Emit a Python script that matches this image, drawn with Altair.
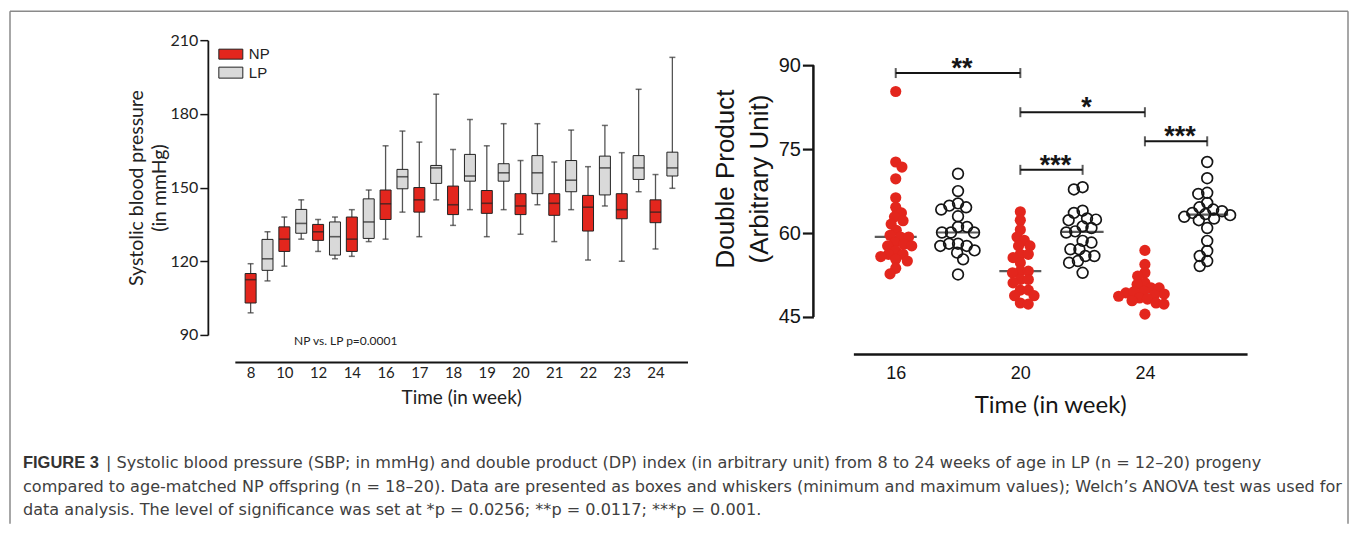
import math
import altair as alt
import pandas as pd

# ---------------- Left panel: systolic blood pressure (box & whiskers) ----------------
weeks = [8, 10, 12, 14, 16, 17, 18, 19, 20, 21, 22, 23, 24]
np_min = [99, 118, 124, 122, 129, 130, 134.6, 130, 131, 128, 120.5, 120, 125]
np_q1 = [103, 124, 128.5, 124, 137, 140, 139, 139.5, 139, 138.7, 132.3, 137.3, 135.7]
np_med = [112.5, 129, 132, 129, 143.4, 145, 143, 143.6, 142.5, 143.6, 142, 141, 140]
np_q3 = [115, 134, 135, 138, 149, 150, 150.6, 148.8, 147.5, 147.5, 146.8, 147.5, 145]
np_max = [119, 138, 137, 141, 167, 168.5, 165.5, 167, 161, 160.4, 158.5, 164.2, 155.3]
lp_min = [112, 129, 121, 128, 140, 145, 141, 141, 143, 141, 142.5, 148.3, 149.7]
lp_q1 = [116.3, 131.4, 122.5, 129.3, 149.5, 151.7, 152.6, 152.6, 147.5, 148.3, 147, 153.3, 154.7]
lp_med = [121, 135.4, 130, 136, 154.4, 158, 154.7, 156, 156, 153, 158, 158, 158]
lp_q3 = [128.9, 141.1, 136, 145.4, 157.4, 159, 163.5, 159.7, 163, 161, 162.8, 163, 164.4]
lp_max = [132, 145, 138, 149, 173, 188, 177.7, 176, 176, 173.4, 175.3, 190, 203]
sbp_ticks = [90, 120, 150, 180, 210]
groups = ["NP", "LP"]

# ---------------- Right panel: double product (scatter) ----------------
dp_weeks = [16, 20, 24]
dp_np16 = [85.3, 72.7, 71.8, 69.7, 66.3, 64.6, 63.6, 62.9, 62.2, 61.6, 60.5, 59.6, 59.3,
           59.3, 58.3, 58.0, 57.7, 57.7, 56.8, 56.2, 56.2, 55.8, 55.3, 55.0, 53.7, 52.7]
dp_lp16 = [70.6, 67.5, 65.3, 64.9, 64.6, 64.2, 63.0, 61.1, 61.1, 60.1, 60.1, 60.1, 58.1,
           58.1, 57.7, 57.7, 56.9, 56.5, 55.3, 52.6]
dp_np20 = [63.8, 62.3, 60.6, 59.3, 58.7, 57.7, 57.7, 56.2, 56.2, 55.6, 54.7, 53.2, 53.2,
           52.9, 51.7, 51.7, 51.1, 49.8, 49.8, 48.8, 48.8, 47.5, 47.3]
dp_lp20 = [68.2, 67.8, 64.0, 63.6, 62.6, 62.4, 62.3, 61.2, 60.9, 60.3, 60.1, 58.6, 58.3,
           57.1, 57.1, 55.9, 55.9, 55.0, 54.7, 52.9]
dp_np24 = [56.9, 54.4, 52.9, 52.3, 51.1, 50.8, 50.2, 50.2, 49.6, 49.3, 49.1, 48.9, 49.5,
           48.7, 48.4, 48.2, 47.9, 47.5, 47.3, 45.5]
dp_lp24 = [72.7, 69.8, 67.2, 67.0, 65.4, 64.6, 64.2, 63.9, 63.6, 63.4, 63.2, 62.9, 62.6,
           62.3, 60.9, 58.6, 56.8, 55.9, 55.0, 54.1]
dp_ticks = [45, 60, 75, 90]
br_from = [0, 2, 2, 4]
br_to = [2, 4, 3, 5]
br_y = [88.6, 81.6, 71.3, 76.4]
br_label = ["**", "*", "***", "***"]

caption_bold = "FIGURE 3"
caption_l1 = ("| Systolic blood pressure (SBP; in mmHg) and double product (DP) index (in arbitrary unit) "
              "from 8 to 24 weeks of age in LP (n = 12–20) progeny")
caption_l2 = ("compared to age-matched NP offspring (n = 18–20). Data are presented as boxes and whiskers "
              "(minimum and maximum values); Welch’s ANOVA test was used for")
caption_l3 = ("data analysis. The level of significance was set at *p = 0.0256; **p = 0.0117; "
              "***p = 0.001.")

RED = "#e3261d"
LGRAY = "#d9d9d9"
INK = "#151515"
LFONT = "Lato"
SFONT = "Liberation Sans"

one = pd.DataFrame({"k": [0]})

# ---------- left panel ----------
rows = []
for i, w in enumerate(weeks):
    rows.append(dict(week=w, group="NP", slot=2 * i, lo=np_min[i], q1=np_q1[i],
                     med=np_med[i], q3=np_q3[i], hi=np_max[i]))
    rows.append(dict(week=w, group="LP", slot=2 * i + 1, lo=lp_min[i], q1=lp_q1[i],
                     med=lp_med[i], q3=lp_q3[i], hi=lp_max[i]))
box_df = pd.DataFrame(rows)

week_expr = "[" + ",".join(f"'{w}'" for w in weeks) + "][datum.value / 2]"
xs = alt.Scale(domain=[-0.64, 25.6], nice=False, zero=False)
ys = alt.Scale(domain=[min(sbp_ticks), max(sbp_ticks)], nice=False, zero=False)

x_axis = alt.Axis(values=[2 * i for i in range(len(weeks))], labelExpr=week_expr,
                  labelOverlap=False, labelSeparation=0, ticks=False, tickSize=0,
                  domainColor=INK, domainWidth=2, offset=27, labelFont=LFONT,
                  labelFontSize=15, labelColor="#222", labelPadding=4,
                  title="Time (in week)", titleFont=LFONT, titleFontSize=19,
                  titleFontWeight="normal", titleColor="#222", titlePadding=8, grid=False)
y_axis = alt.Axis(values=sbp_ticks, offset=27, tickSize=8, tickColor=INK, tickWidth=1.5,
                  domainColor=INK, domainWidth=1.8, labelFont=LFONT, labelFontSize=16,
                  labelColor="#222", labelPadding=2,
                  title=["Systolic blood pressure", "(in mmHg)"], titleFont=LFONT,
                  titleFontSize=19.5, titleFontWeight="normal", titleColor="#222",
                  titlePadding=1, titleLineHeight=23, grid=False)

base = alt.Chart(box_df)
whisk = base.mark_rule(color="#555", strokeWidth=1.3).encode(
    x=alt.X("slot:Q", scale=xs, axis=x_axis),
    y=alt.Y("lo:Q", scale=ys, axis=y_axis), y2="hi:Q")
cap_lo = base.mark_tick(orient="horizontal", size=6, thickness=1.5, color="#333").encode(
    x=alt.X("slot:Q", axis=x_axis), y="lo:Q")
cap_hi = base.mark_tick(orient="horizontal", size=6, thickness=1.5, color="#333").encode(
    x=alt.X("slot:Q", axis=x_axis), y="hi:Q")
boxes = base.mark_bar(size=11, stroke="#222", strokeWidth=1).encode(
    x=alt.X("slot:Q", axis=x_axis), y="q1:Q", y2="q3:Q",
    color=alt.Color("group:N", scale=alt.Scale(domain=groups, range=[RED, LGRAY]), legend=None))
meds = base.mark_tick(orient="horizontal", size=11, thickness=1.6, color="#222").encode(
    x=alt.X("slot:Q", axis=x_axis), y="med:Q")

FRAME = "#8a8a8a"
fr_top = alt.Chart(one).mark_rule(color=FRAME, strokeWidth=1.5).encode(
    x=alt.value(-225), x2=alt.value(1114), y=alt.value(-29))
fr_left = alt.Chart(one).mark_rule(color=FRAME, strokeWidth=1.5).encode(
    x=alt.value(-225), y=alt.value(-29), y2=alt.value(484))
fr_right = alt.Chart(one).mark_rule(color=FRAME, strokeWidth=1.5).encode(
    x=alt.value(1114), y=alt.value(-29), y2=alt.value(484))

leg_np = alt.Chart(one).mark_rect(fill=RED, stroke="#222", strokeWidth=1).encode(
    x=alt.value(-16), x2=alt.value(8), y=alt.value(9), y2=alt.value(19))
leg_lp = alt.Chart(one).mark_rect(fill=LGRAY, stroke="#222", strokeWidth=1).encode(
    x=alt.value(-16), x2=alt.value(8), y=alt.value(27), y2=alt.value(38))
leg_np_t = alt.Chart(one).mark_text(align="left", baseline="middle", font=SFONT,
                                    fontSize=15, color="#222").encode(
    x=alt.value(14), y=alt.value(14), text=alt.value(groups[0]))
leg_lp_t = alt.Chart(one).mark_text(align="left", baseline="middle", font=SFONT,
                                    fontSize=15, color="#222").encode(
    x=alt.value(14), y=alt.value(33), text=alt.value(groups[1]))
ptext = alt.Chart(one).mark_text(align="center", baseline="middle", font=LFONT,
                                 fontSize=12, color="#222").encode(
    x=alt.value(111), y=alt.value(301), text=alt.value("NP vs. LP p=0.0001"))

CAP = dict(align="left", baseline="middle", font="DejaVu Sans", fontSize=16.1, color="#404040")
cap0 = alt.Chart(one).mark_text(align="left", baseline="middle", font=SFONT, fontSize=16.5,
                                fontWeight="bold", color="#333").encode(
    x=alt.value(-212), y=alt.value(423), text=alt.value(caption_bold))
cap1 = alt.Chart(one).mark_text(**CAP).encode(
    x=alt.value(-129), y=alt.value(423), text=alt.value(caption_l1))
cap2 = alt.Chart(one).mark_text(**CAP).encode(
    x=alt.value(-212), y=alt.value(447), text=alt.value(caption_l2))
cap3 = alt.Chart(one).mark_text(**CAP).encode(
    x=alt.value(-212), y=alt.value(470), text=alt.value(caption_l3))

left = alt.layer(whisk, cap_lo, cap_hi, boxes, meds, fr_top, fr_left, fr_right,
                 leg_np, leg_lp, leg_np_t, leg_lp_t, ptext, cap0, cap1, cap2, cap3
                 ).properties(width=453, height=295)

# ---------- right panel ----------
PX_X = 394 / 6.32      # pixels per slot
PX_Y = 277 / 49.48     # pixels per unit


def swarm(vals, diam):
    order = sorted(range(len(vals)), key=lambda i: -vals[i])
    placed = []
    offs = [0.0] * len(vals)
    for n, i in enumerate(order):
        y = vals[i] * PX_Y
        cands = [0.0]
        for px, py in placed:
            dy = abs(py - y)
            if dy < diam:
                dx = math.sqrt(diam * diam - dy * dy)
                cands += [px + dx, px - dx]
        sign = 1 if n % 2 == 0 else -1
        cands.sort(key=lambda c: (round(abs(c), 6), -sign * c))
        chosen = cands[-1]
        for c in cands:
            if all((c - px) ** 2 + (y - py) ** 2 >= diam * diam - 1e-6 for px, py in placed):
                chosen = c
                break
        placed.append((chosen, y))
        offs[i] = chosen / PX_X
    return offs


series = [("NP", 16, dp_np16), ("LP", 16, dp_lp16), ("NP", 20, dp_np20),
          ("LP", 20, dp_lp20), ("NP", 24, dp_np24), ("LP", 24, dp_lp24)]
drows = []
for s, (g, wk, vals) in enumerate(series):
    offs = swarm(vals, 8.0 if g == "NP" else 9.0)
    for v, o in zip(vals, offs):
        drows.append(dict(slot=s, group=g, week=wk, value=v, xpos=s + o))
dot_df = pd.DataFrame(drows)

xs2 = alt.Scale(domain=[-0.68, 5.64], nice=False, zero=False)
ys2 = alt.Scale(domain=[45, 94.48], nice=False, zero=False)
dp_expr = "[" + ",".join(f"'{w}'" for w in dp_weeks) + "][datum.value / 2]"
x_axis2 = alt.Axis(values=[0, 2, 4], labelExpr=dp_expr, labelOverlap=False, ticks=False,
                   tickSize=0, domainColor=INK, domainWidth=2.5, offset=37, labelFont=SFONT,
                   labelFontSize=18, labelColor=INK, labelPadding=11,
                   title="Time (in week)", titleFont=LFONT, titleFontSize=24,
                   titleFontWeight="normal", titleColor=INK, titlePadding=11, grid=False)
y_axis2 = alt.Axis(values=dp_ticks, domain=False, offset=40, tickSize=11, tickWidth=2.2,
                   tickColor=INK, labelFont=SFONT, labelFontSize=20, labelColor=INK,
                   labelPadding=2, title=["Double Product", "(Arbitrary Unit)"],
                   titleFont=SFONT, titleFontSize=26, titleFontWeight="normal",
                   titleColor=INK, titleLineHeight=34, titlePadding=6, grid=False)

dbase = alt.Chart(dot_df)
medians = dbase.transform_aggregate(med="median(value)", groupby=["slot"]).mark_tick(
    orient="horizontal", size=42, thickness=2.2, color=INK).encode(
    x=alt.X("slot:Q", scale=xs2, axis=x_axis2), y=alt.Y("med:Q", scale=ys2, axis=y_axis2))
pts_np = dbase.transform_filter(alt.datum.group == "NP").mark_point(
    filled=True, size=125, color=RED, opacity=1).encode(x="xpos:Q", y="value:Q")
pts_lp = dbase.transform_filter(alt.datum.group == "LP").mark_point(
    filled=False, size=115, color=INK, strokeWidth=1.7, opacity=1).encode(x="xpos:Q", y="value:Q")
yline = alt.Chart(one).mark_rule(color=INK, strokeWidth=2.5).encode(
    x=alt.value(-40), y=alt.datum(min(dp_ticks)), y2=alt.datum(max(dp_ticks)))

br_df = pd.DataFrame({"x1": br_from, "x2": br_to, "y": br_y, "lab": br_label})
bbase = alt.Chart(br_df)
br_rule = bbase.mark_rule(color=INK, strokeWidth=2).encode(x="x1:Q", x2="x2:Q", y="y:Q")
br_e1 = bbase.mark_tick(orient="vertical", size=10, thickness=2, color=INK).encode(x="x1:Q", y="y:Q")
br_e2 = bbase.mark_tick(orient="vertical", size=10, thickness=2, color=INK).encode(x="x2:Q", y="y:Q")
br_txt = bbase.transform_calculate(xm="(datum.x1 + datum.x2) / 2").mark_text(
    font=SFONT, fontSize=27, fontWeight="bold", color=INK, baseline="alphabetic",
    dy=4, dx=4).encode(x="xm:Q", y="y:Q", text="lab:N")

right = alt.layer(medians, pts_np, pts_lp, yline, br_rule, br_e1, br_e2, br_txt
                  ).properties(width=394, height=277)

chart = alt.hconcat(left, right, spacing=166, bounds="flush").properties(
    padding={"left": 1, "top": 2, "right": 0, "bottom": 0}
).configure_view(stroke=None).configure_axis(labelOverlap=False)

chart.save("out.html", embed_options={"renderer": "svg", "actions": False})
